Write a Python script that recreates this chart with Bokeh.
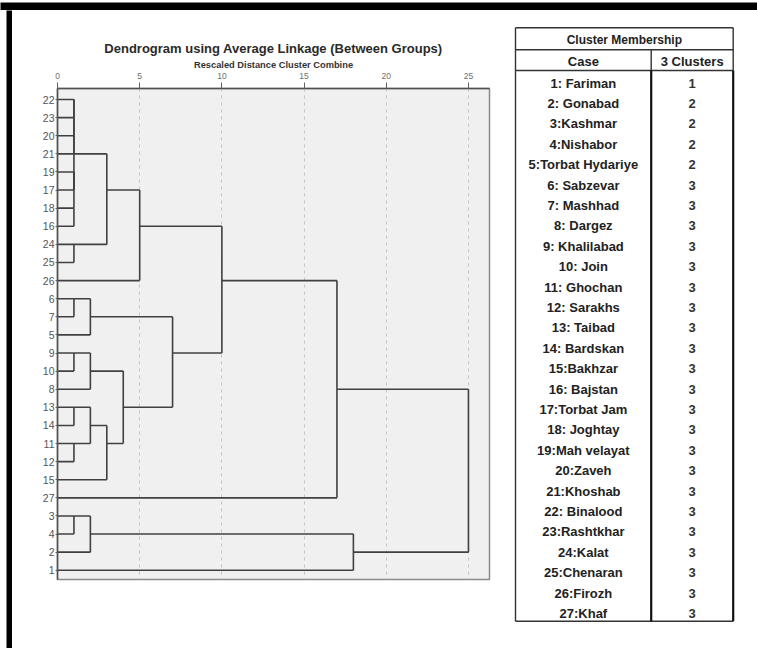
import math
from bokeh.plotting import figure
from bokeh.layouts import row, column
from bokeh.models import Range1d, FixedTicker, ColumnDataSource
from bokeh.core.properties import value
from bokeh.embed import file_html
from bokeh.resources import INLINE

# ---------------- data ----------------
# leaf order of the dendrogram (case numbers, top to bottom)
leaf_order = [22, 23, 20, 21, 19, 17, 18, 16, 24, 25, 26, 6, 7, 5, 9, 10, 8,
              13, 14, 11, 12, 15, 27, 3, 4, 2, 1]
# agglomeration schedule: cluster a joins cluster b at rescaled distance
merge_a = [22, 20, 22, 19, 18, 19, 22, 24, 22, 22, 6, 6, 9, 9, 13, 11, 13, 13,
           9, 6, 22, 22, 3, 3, 3, 22]
merge_b = [23, 21, 20, 17, 16, 18, 19, 25, 24, 26, 7, 5, 10, 8, 14, 12, 11, 15,
           13, 9, 6, 27, 4, 2, 1, 3]
merge_dist = [1, 1, 1, 1, 1, 1, 1, 1, 3, 5, 1, 2, 1, 2, 1, 1, 2, 3,
              4, 7, 10, 17, 1, 2, 18, 25]
x_ticks = [0, 5, 10, 15, 20, 25]

case_labels = ["1: Fariman", "2: Gonabad", "3:Kashmar", "4:Nishabor",
               "5:Torbat Hydariye", "6: Sabzevar", "7: Mashhad", "8: Dargez",
               "9: Khalilabad", "10: Join", "11: Ghochan", "12: Sarakhs",
               "13: Taibad", "14: Bardskan", "15:Bakhzar", "16: Bajstan",
               "17:Torbat Jam", "18: Joghtay", "19:Mah velayat", "20:Zaveh",
               "21:Khoshab", "22: Binalood", "23:Rashtkhar", "24:Kalat",
               "25:Chenaran", "26:Firozh", "27:Khaf"]
cluster_3 = [1, 2, 2, 2, 2, 3, 3, 3, 3, 3, 3, 3, 3, 3, 3, 3, 3, 3, 3, 3, 3, 3,
             3, 3, 3, 3, 3]
table_title = "Cluster Membership"
col_headers = ["Case", "3 Clusters"]

FONT = "Liberation Sans"

# ---------------- dendrogram geometry from the schedule ----------------
pos = {c: i for i, c in enumerate(leaf_order)}
hgt = {c: 0 for c in leaf_order}
x0, y0, x1, y1 = [], [], [], []
for a, b, d in zip(merge_a, merge_b, merge_dist):
    pa, pb = pos[a], pos[b]
    x0 += [hgt[a], hgt[b], d]
    y0 += [pa, pb, pa]
    x1 += [d, d, d]
    y1 += [pa, pb, pb]
    pos[a] = math.floor((pa + pb) / 2)
    hgt[a] = d
seg_src = ColumnDataSource(dict(x0=x0, y0=y0, x1=x1, y1=y1))

# ---------------- dendrogram figure ----------------
pA = figure(width=496, height=638, x_range=Range1d(0, 26.28),
            y_range=Range1d(26.51, -0.61), x_axis_location="above",
            output_backend="svg", toolbar_location=None,
            min_border_left=45, min_border_right=19, min_border_top=78,
            min_border_bottom=69, background_fill_color="#f0f0f0",
            border_fill_color="white",
            title="Dendrogram using Average Linkage (Between Groups)")
pA.frame_align = False
pA.title.align = "center"
pA.title.text_font = FONT
pA.title.text_font_size = "13px"
pA.title.text_font_style = "bold"
pA.title.text_color = "#2a2a2a"
pA.title.standoff = 2
pA.outline_line_color = "#8a8a8a"
pA.outline_line_width = 1.5

pA.segment("x0", "y0", "x1", "y1", source=seg_src, line_color="#404040",
           line_width=1.6)

xa = pA.xaxis[0]
xa.ticker = FixedTicker(ticks=x_ticks)
xa.major_label_text_font = FONT
xa.major_label_text_font_size = "8.5px"
xa.major_label_text_color = "#6e6e6e"
xa.major_label_standoff = 4
xa.major_tick_out = 6
xa.major_tick_in = 0
xa.major_tick_line_color = "#606060"
xa.minor_tick_line_color = None
xa.axis_line_color = "#505050"
xa.axis_line_width = 1.5
xa.axis_label = "Rescaled Distance Cluster Combine"
xa.axis_label_text_font = FONT
xa.axis_label_text_font_size = "9.3px"
xa.axis_label_text_font_style = "bold"
xa.axis_label_text_color = "#333333"
xa.axis_label_standoff = 0

ya = pA.yaxis[0]
ya.ticker = FixedTicker(ticks=list(range(len(leaf_order))))
ya.major_label_overrides = {i: str(c) for i, c in enumerate(leaf_order)}
ya.major_label_text_font = "'Liberation Sans Narrow', 'Liberation Sans', sans-serif"
ya.major_label_text_font_size = "10.5px"
ya.major_label_text_color = "#555555"
ya.major_label_standoff = 1
ya.major_tick_out = 2
ya.major_tick_in = 0
ya.major_tick_line_color = "#606060"
ya.minor_tick_line_color = None
ya.axis_line_color = "#505050"
ya.axis_line_width = 1.5

pA.xgrid.ticker = FixedTicker(ticks=x_ticks[1:])
pA.xgrid.grid_line_color = "#c4c4c4"
pA.xgrid.grid_line_dash = "3 4"
pA.xgrid.grid_line_width = 1
pA.ygrid.visible = False

# ---------------- cluster membership table ----------------
n = len(case_labels)
pB = figure(width=249, height=638, x_range=Range1d(-7, 242),
            y_range=Range1d(28.333, -2.941), x_axis_location=None,
            y_axis_location=None, min_border=0, outline_line_color=None,
            background_fill_color="white", border_fill_color="white",
            output_backend="svg", toolbar_location=None)
pB.frame_align = False
pB.grid.visible = False

L, M, R = 0, 135.7, 217.7
H1, H2 = -2.093, -1.015
thin = ColumnDataSource(dict(
    x0=[L, L, L, L, L, M, R],
    y0=[H1, H2, 0, n, H1, H2, H1],
    x1=[R, R, R, R, L, M, R],
    y1=[H1, H2, 0, n, n, 0, 0]))
pB.segment("x0", "y0", "x1", "y1", source=thin, line_color="#333333",
           line_width=1.4)
thick = ColumnDataSource(dict(x0=[M, R], y0=[0, 0], x1=[M, R], y1=[n, n]))
pB.segment("x0", "y0", "x1", "y1", source=thick, line_color="#111111",
           line_width=2.2)

tsrc = ColumnDataSource(dict(y=[i + 0.62 for i in range(n)], case=case_labels,
                             cl=[str(c) for c in cluster_3]))
pB.text(x=(L + M) / 2, y="y", text="case", source=tsrc, text_align="center",
        text_baseline="middle", text_font=value(FONT), text_font_size="13px",
        text_font_style="bold", text_color="#222222")
pB.text(x=(M + R) / 2, y="y", text="cl", source=tsrc, text_align="center",
        text_baseline="middle", text_font=value(FONT), text_font_size="13px",
        text_font_style="bold", text_color="#333333")
hsrc = ColumnDataSource(dict(x=[(L + R) / 2, (L + M) / 2, (M + R) / 2],
                             y=[(H1 + H2) / 2 + 0.08, H2 / 2 + 0.06, H2 / 2 + 0.06],
                             t=[table_title] + col_headers,
                             s=["12px", "13px", "13px"]))
pB.text(x="x", y="y", text="t", source=hsrc, text_align="center",
        text_baseline="middle", text_font=value(FONT), text_font_size="s",
        text_font_style="bold", text_color="#222222")

# ---------------- black frame bands of the screenshot ----------------
def band(w, h, left_pad=0):
    b = figure(width=w, height=h, min_border=0, min_border_left=left_pad,
               x_axis_location=None, y_axis_location=None,
               outline_line_color=None, background_fill_color="black",
               border_fill_color="white" if left_pad else "black",
               output_backend="svg", toolbar_location=None)
    b.frame_align = False
    b.grid.visible = False
    return b

top_band = band(757, 10)
left_band = band(12, 638, left_pad=6)

layout = column(top_band, row(left_band, pA, pB, spacing=0), spacing=0)

with open("out.html", "w") as f:
    f.write(file_html(layout, INLINE))
